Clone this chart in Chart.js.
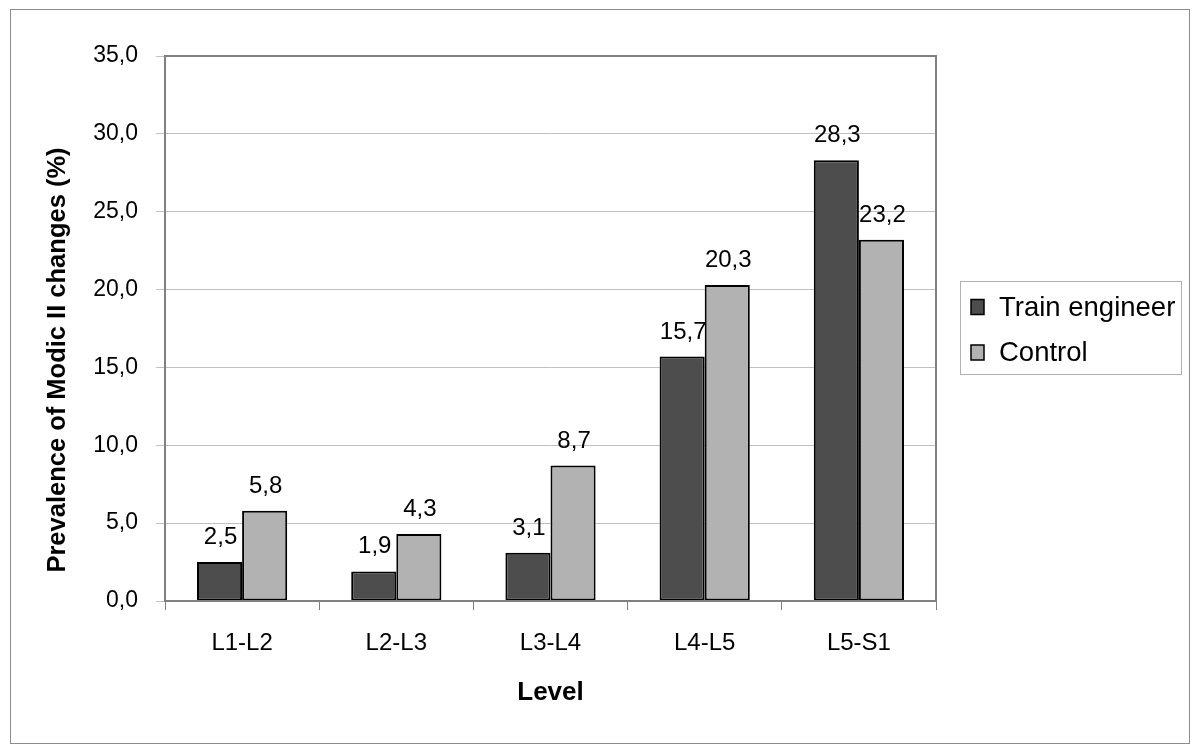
<!DOCTYPE html>
<html>
<head>
<meta charset="utf-8">
<script src="https://cdn.jsdelivr.net/npm/chart.js@4"></script>
<style>
  html, body { margin: 0; padding: 0; background: #fff; }
  #wrap { width: 1200px; height: 754px; }
</style>
</head>
<body>
<div id="wrap"><canvas id="modicChart" width="1200" height="754"></canvas></div>
<script>
// Data
const levels = ['L1-L2', 'L2-L3', 'L3-L4', 'L4-L5', 'L5-S1'];
const trainEngineer = [2.5, 1.9, 3.1, 15.7, 28.3];
const control = [5.8, 4.3, 8.7, 20.3, 23.2];
const seriesNames = ['Train engineer', 'Control'];
const yTicks = [0, 5, 10, 15, 20, 25, 30, 35];
const yTitle = 'Prevalence of Modic II changes (%)';

const fmt = v => v.toFixed(1).replace('.', ',');
const FONT = "'Liberation Sans', Arial, sans-serif";

// value labels above bars, plot frame, outer border, y title, legend box
const extras = {
    id: 'extras',
    afterDraw(chart) {
        const c = chart.ctx;
        const a = chart.chartArea;
        c.save();
        // plot frame
        c.strokeStyle = '#808080';
        c.lineWidth = 2;
        c.strokeRect(a.left, a.top, a.right - a.left, a.bottom - a.top);
        // outer border
        c.strokeStyle = '#8c8c8c';
        c.lineWidth = 1;
        c.strokeRect(10.5, 9.5, 1179, 734);

        // y axis title (sits lower than the plot centre in the original)
        c.save();
        c.translate(58, 360);
        c.rotate(-Math.PI / 2);
        c.fillStyle = '#000';
        c.font = 'bold 25.5px ' + FONT;
        c.textAlign = 'center';
        c.textBaseline = 'middle';
        c.fillText(yTitle, 0, 0);
        c.restore();

        // value labels
        c.fillStyle = '#000';
        c.font = '24px ' + FONT;
        c.textAlign = 'center';
        c.textBaseline = 'alphabetic';
        chart.data.datasets.forEach((ds, i) => {
            chart.getDatasetMeta(i).data.forEach((bar, j) => {
                c.fillText(fmt(ds.data[j]), bar.x + 1, bar.y - 18);
            });
        });

        // legend
        c.strokeStyle = '#b0b0b0';
        c.lineWidth = 1;
        c.strokeRect(960.5, 281.5, 221, 93);
        c.font = '27.5px ' + FONT;
        c.textAlign = 'left';
        c.textBaseline = 'middle';
        chart.data.datasets.forEach((ds, i) => {
            const y = 307 + i * 45.5;
            c.fillStyle = ds.backgroundColor;
            c.fillRect(971, y - 7.5, 13, 15);
            c.strokeStyle = '#000';
            c.lineWidth = 1.5;
            c.strokeRect(971, y - 7.5, 13, 15);
            c.fillStyle = '#000';
            c.fillText(ds.label, 999, y + 1);
        });
        c.restore();
    }
};

new Chart(document.getElementById('modicChart'), {
    type: 'bar',
    data: {
        labels: levels,
        datasets: [{
            label: seriesNames[0],
            data: trainEngineer,
            backgroundColor: '#4d4d4d',
            borderColor: '#000',
            borderWidth: 2,
            borderSkipped: false,
            categoryPercentage: 0.585,
            barPercentage: 1
        }, {
            label: seriesNames[1],
            data: control,
            backgroundColor: '#b2b2b2',
            borderColor: '#000',
            borderWidth: 2,
            borderSkipped: false,
            categoryPercentage: 0.585,
            barPercentage: 1
        }]
    },
    options: {
        responsive: false,
        animation: false,
        layout: { padding: { left: 0, right: 264, top: 56, bottom: 0 } },
        plugins: {
            legend: { display: false },
            tooltip: { enabled: false }
        },
        scales: {
            x: {
                grid: { drawOnChartArea: false, color: '#808080', tickLength: 9 },
                border: { display: false },
                ticks: { color: '#000', font: { family: FONT, size: 24 }, padding: 19 },
                title: {
                    display: true,
                    text: 'Level',
                    color: '#000',
                    font: { family: FONT, size: 26, weight: 'bold' },
                    padding: { top: 0, bottom: 46 }
                },
                afterFit(scale) { scale.height = 153; }
            },
            y: {
                min: 0,
                max: 35,
                afterBuildTicks(scale) { scale.ticks = yTicks.map(v => ({ value: v })); },
                grid: { color: '#c0c0c0', tickLength: 9, lineWidth: 1 },
                border: { display: false },
                ticks: {
                    color: '#000',
                    font: { family: FONT, size: 23 },
                    padding: 18,
                    callback: v => fmt(v)
                },
                afterFit(scale) { scale.width = 165; }
            }
        }
    },
    plugins: [extras]
});
</script>
</body>
</html>
